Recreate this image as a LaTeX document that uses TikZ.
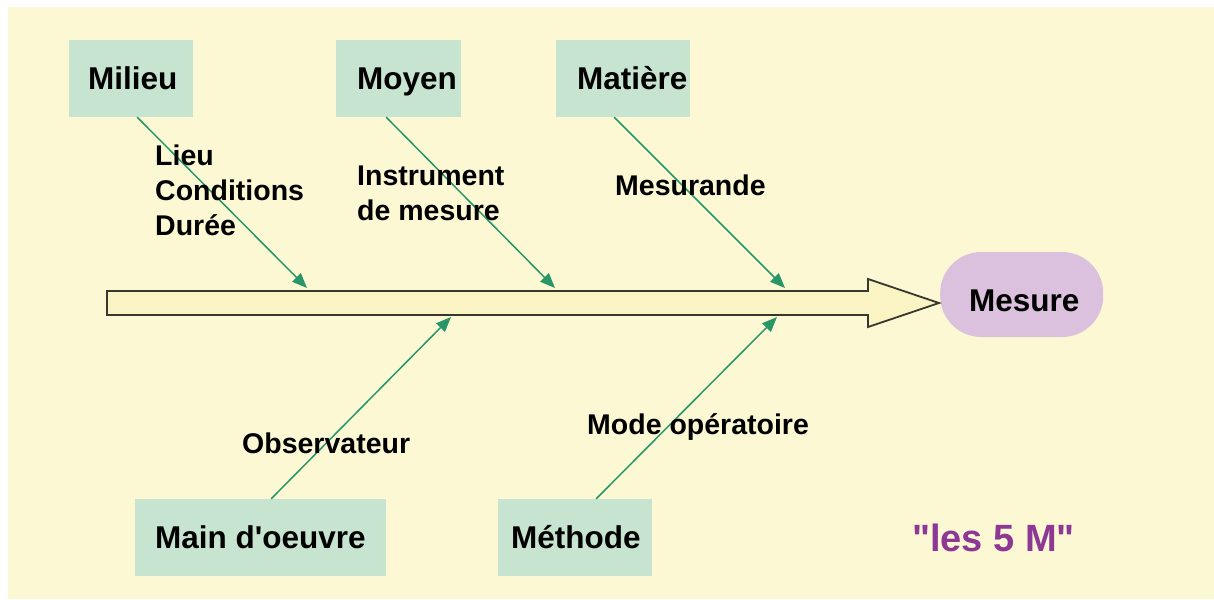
\documentclass[tikz,border=0pt]{standalone}
\usepackage{fontspec}
\newfontfamily\lsans{Liberation Sans}
\usetikzlibrary{arrows.meta,calc}
\definecolor{bg}{RGB}{252,248,212}
\definecolor{boxc}{RGB}{199,228,208}
\definecolor{mes}{RGB}{219,193,221}
\definecolor{shaft}{RGB}{250,244,196}
\definecolor{connc}{RGB}{40,150,105}
\definecolor{arrowline}{RGB}{55,55,45}
\definecolor{purp}{RGB}{142,56,150}
\newcommand\padtxt[3]{\makebox[#1][l]{\hspace*{#2}#3}}
\begin{document}
\begin{tikzpicture}[x=1pt,y=-1pt,
  catbox/.style={fill=boxc, draw=none, inner sep=0pt, minimum height=77pt, anchor=west,
    font=\lsans\bfseries\fontsize{31.5}{36}\selectfont, text height=22.6pt, text depth=0pt},
  lbl/.style={inner sep=0pt, font=\lsans\bfseries\fontsize{28.5}{35}\selectfont, align=left},
  conn/.style={draw=connc, line width=1.5pt, -{Triangle[length=15pt,width=12pt]}}]
\useasboundingbox (0,0) rectangle (1214,599);
\fill[white] (0,0) rectangle (1214,599);
\fill[bg] (8,7) rectangle (1214,599);

% effect node
\node[fill=mes, rounded corners=41pt, minimum width=163pt, minimum height=85pt, inner sep=0pt,
  anchor=west, font=\lsans\bfseries\fontsize{31.5}{36}\selectfont, text height=33.6pt, text depth=0pt]
  (mesure) at (940,294.5) {\padtxt{163pt}{29pt}{Mesure}};

% main arrow
\coordinate (tail) at (107,303);
\coordinate (tip) at (939,303);
\draw[draw=arrowline, line width=1.8pt, fill=shaft, line join=miter]
  (107,291) -- (868,291) -- (868,279) -- (tip) -- (868,327) -- (868,315) -- (107,315) -- cycle;

% category boxes
\node[catbox] (milieu) at (69,78.5) {\padtxt{124pt}{19pt}{Milieu}};
\node[catbox] (moyen) at (336,78.5) {\padtxt{125pt}{21pt}{Moyen}};
\node[catbox] (matiere) at (556,78.5) {\padtxt{134pt}{21pt}{Matière}};
\node[catbox] (main) at (135,537.5) {\padtxt{251pt}{20pt}{Main d'oeuvre}};
\node[catbox] (methode) at (498,537.5) {\padtxt{154pt}{13pt}{Méthode}};

% connector ends on the spine
\coordinate (e1) at (307,288);
\coordinate (e2) at (555,288);
\coordinate (e3) at (785,288);
\coordinate (e4) at (451,317);
\coordinate (e5) at (777,317);

\draw[conn] ([xshift=6pt]milieu.south) -- (e1);
\draw[conn] ([xshift=-12.5pt]moyen.south) -- (e2);
\draw[conn] ([xshift=-9pt]matiere.south) -- (e3);
\draw[conn] ([xshift=10.5pt]main.north) -- (e4);
\draw[conn] ([xshift=21pt]methode.north) -- (e5);

% labels
\node[lbl, anchor=north west] (lieu) at (155,144.6) {Lieu\\Conditions\\Durée};
\node[lbl, anchor=north west] (instr) at (357,165.6) {Instrument\\de mesure};
\node[lbl, anchor=base west] (mesurande) at (615,195) {Mesurande};
\node[lbl, anchor=base west] (obs) at (242,453) {Observateur};
\node[lbl, anchor=base west] (mode) at (587,434) {Mode opératoire};
\node[anchor=base west, inner sep=0pt, text=purp, font=\lsans\bfseries\fontsize{38}{44}\selectfont]
  (les) at (912,551) {"les 5 M"};
\end{tikzpicture}
\end{document}
